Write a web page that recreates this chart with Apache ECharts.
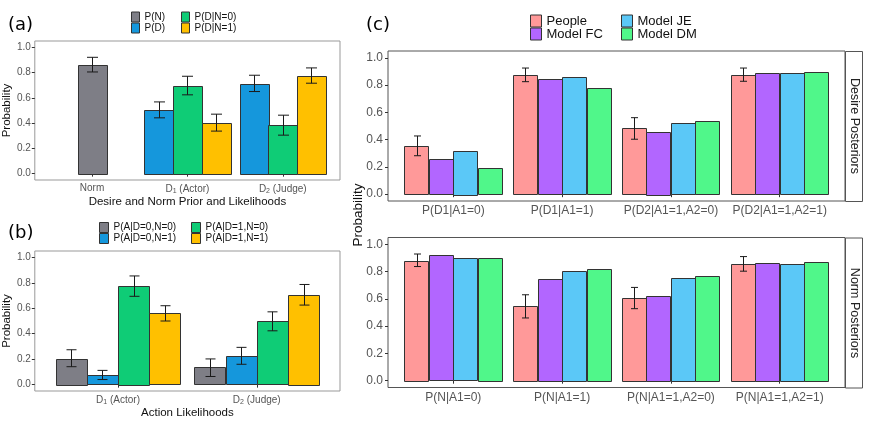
<!DOCTYPE html>
<html>
<head>
<meta charset="utf-8">
<script src="https://cdn.jsdelivr.net/npm/echarts@6/dist/echarts.min.js"></script>
<style>
  html, body { margin: 0; padding: 0; background: #fff; }
  #main { width: 872px; height: 425px; }
</style>
</head>
<body>
<div id="main"></div>
<script>
// ---- panel (a): desire and norm priors / likelihoods
var catsA = ['Norm', 'D1 (Actor)', 'D2 (Judge)'];
var pN = [0.863], pNLo = [0.805], pNHi = [0.921];
var pD = [0.505, 0.713], pDLo = [0.442, 0.650], pDHi = [0.568, 0.779];
var pDN0 = [0.697, 0.384], pDN0Lo = [0.624, 0.305], pDN0Hi = [0.771, 0.463];
var pDN1 = [0.403, 0.774], pDN1Lo = [0.337, 0.716], pDN1Hi = [0.471, 0.837];

// ---- panel (b): action likelihoods
var catsB = ['D1 (Actor)', 'D2 (Judge)'];
var a00 = [0.205, 0.136], a00Lo = [0.141, 0.064], a00Hi = [0.274, 0.202];
var a01 = [0.074, 0.223], a01Lo = [0.040, 0.160], a01Hi = [0.112, 0.293];
var a10 = [0.774, 0.497], a10Lo = [0.694, 0.423], a10Hi = [0.854, 0.572];
var a11 = [0.559, 0.705], a11Lo = [0.500, 0.625], a11Hi = [0.620, 0.787];

// ---- panel (c): posteriors, people vs models
var catsDesire = ['P(D1|A1=0)', 'P(D1|A1=1)', 'P(D2|A1=1,A2=0)', 'P(D2|A1=1,A2=1)'];
var peopleD = [0.354, 0.874, 0.483, 0.874];
var peopleDLo = [0.282, 0.825, 0.403, 0.828];
var peopleDHi = [0.427, 0.925, 0.561, 0.925];
var fcD = [0.260, 0.845, 0.459, 0.886];
var jeD = [0.320, 0.859, 0.519, 0.888];
var dmD = [0.189, 0.779, 0.536, 0.893];

var catsNorm = ['P(N|A1=0)', 'P(N|A1=1)', 'P(N|A1=1,A2=0)', 'P(N|A1=1,A2=1)'];
var peopleN = [0.881, 0.547, 0.606, 0.856];
var peopleNLo = [0.837, 0.460, 0.528, 0.803];
var peopleNHi = [0.929, 0.630, 0.684, 0.910];
var fcN = [0.920, 0.747, 0.623, 0.864];
var jeN = [0.898, 0.808, 0.752, 0.859];
var dmN = [0.900, 0.820, 0.771, 0.871];

var FONT = 'Liberation Sans';
var probTicks = [0, 0.2, 0.4, 0.6, 0.8, 1.0];

// bar with optional error bar, placed by dodge slot inside a category
function bars(name, grid, color, xs, vals, lo, hi, slot, nSlots, cap) {
  var w = 0.9 / nSlots;
  var data = vals.map(function (v, i) {
    var x = xs[i] + (slot - (nSlots - 1) / 2) * w;
    return lo ? [x, v, lo[i], hi[i]] : [x, v];
  });
  return {
    type: 'custom',
    name: name,
    xAxisIndex: grid,
    yAxisIndex: grid,
    itemStyle: { color: color, borderColor: '#333', borderWidth: 1 },
    encode: { x: 0, y: 1 },
    data: data,
    renderItem: function (params, api) {
      var x = api.value(0), y = api.value(1);
      var p0 = api.coord([x - w / 2, 0]);
      var p1 = api.coord([x + w / 2, y]);
      var kids = [{
        type: 'rect',
        shape: { x: Math.round(p0[0]) + 0.5, y: Math.round(p1[1]) + 0.5,
                 width: Math.round(p1[0] - p0[0]), height: Math.round(p0[1] - p1[1]) },
        style: { fill: color, stroke: '#333', lineWidth: 1 }
      }];
      if (lo) {
        var t = api.coord([x, api.value(3)]);
        var b = api.coord([x, api.value(2)]);
        var cx = Math.round(t[0]) + 0.5;
        var st = { stroke: '#1a1a1a', lineWidth: 1 };
        kids.push({ type: 'line', shape: { x1: cx, y1: t[1], x2: cx, y2: b[1] }, style: st });
        kids.push({ type: 'line', shape: { x1: cx - cap / 2, y1: t[1], x2: cx + cap / 2, y2: t[1] }, style: st });
        kids.push({ type: 'line', shape: { x1: cx - cap / 2, y1: b[1], x2: cx + cap / 2, y2: b[1] }, style: st });
      }
      return { type: 'group', children: kids };
    }
  };
}

function idx(n) { var r = []; for (var i = 1; i <= n; i++) r.push(i); return r; }
function subLabel(s) { return s.replace(/^D(\d)/, 'D{s|$1}'); }

function xAxis(grid, cats, fs, margin, name, nameGap, rich) {
  return {
    type: 'value', gridIndex: grid, min: 0.4, max: cats.length + 0.6,
    axisLine: { show: false },
    splitLine: { show: false },
    axisTick: { show: true, customValues: idx(cats.length), length: 3, lineStyle: { color: '#333' } },
    axisLabel: {
      customValues: idx(cats.length), margin: margin, fontSize: fs, fontFamily: FONT, color: '#555',
      formatter: function (v) { var s = cats[Math.round(v) - 1] || ''; return rich ? subLabel(s) : s; },
      rich: rich ? { s: { fontSize: fs * 0.7, fontFamily: FONT, color: '#555', padding: [5, 0, 0, 0] } } : undefined
    },
    name: name, nameLocation: 'middle', nameGap: nameGap,
    nameTextStyle: { fontSize: 11.5, fontFamily: FONT, color: '#111' }
  };
}

function yAxis(grid, fs, margin, name) {
  return {
    type: 'value', gridIndex: grid, min: -0.05, max: 1.05,
    axisLine: { show: false },
    splitLine: { show: false },
    axisTick: { show: true, customValues: probTicks, length: 3, lineStyle: { color: '#333' } },
    axisLabel: {
      customValues: probTicks, margin: margin, fontSize: fs, fontFamily: FONT, color: '#555',
      formatter: function (v) { return v.toFixed(1); }
    },
    name: name, nameLocation: 'middle', nameGap: 17,
    nameTextStyle: { fontSize: 11.5, fontFamily: FONT, color: '#111' }
  };
}

function legend(names, left, top, iw, ih, fs) {
  return {
    data: names, orient: 'vertical', left: left, top: top, padding: 0,
    itemWidth: iw, itemHeight: ih, itemGap: 0, icon: 'rect', selectedMode: false,
    itemStyle: { borderColor: '#333', borderWidth: 1 },
    textStyle: { fontSize: fs, fontFamily: FONT, color: '#111', lineHeight: ih }
  };
}

var cGray = '#7e7e86', cBlue = '#1597dc', cGreen = '#0fcc76', cYellow = '#ffc000';
var cPeople = '#ff9999', cFC = '#b266ff', cJE = '#5bc8f7', cDM = '#50f78a';

var chart = echarts.init(document.getElementById('main'), null, { renderer: 'canvas' });

chart.setOption({
  animation: false,
  backgroundColor: '#fff',
  grid: [
    { left: 30, top: 41, width: 310, height: 139, show: true, borderColor: '#999', borderWidth: 1 },
    { left: 30, top: 251, width: 310, height: 140, show: true, borderColor: '#999', borderWidth: 1 },
    { left: 388, top: 51, width: 457, height: 150, show: true, borderColor: '#555', borderWidth: 1 },
    { left: 388, top: 237.5, width: 457, height: 150, show: true, borderColor: '#555', borderWidth: 1 }
  ],
  xAxis: [
    xAxis(0, catsA, 10, 3, 'Desire and Norm Prior and Likelihoods', 16, true),
    xAxis(1, catsB, 10, 3, 'Action Likelihoods', 16, true),
    xAxis(2, catsDesire, 12, 4, '', 0, false),
    xAxis(3, catsNorm, 12, 4, '', 0, false)
  ],
  yAxis: [
    yAxis(0, 10, 4, 'Probability'),
    yAxis(1, 10, 4, 'Probability'),
    yAxis(2, 12, 5, ''),
    yAxis(3, 12, 5, '')
  ],
  legend: [
    legend(['P(N)', 'P(D)'], 131, 11.5, 8, 10, 10),
    legend(['P(D|N=0)', 'P(D|N=1)'], 181, 11.5, 8, 10, 10),
    legend(['P(A|D=0,N=0)', 'P(A|D=0,N=1)'], 99, 222, 9, 10, 10),
    legend(['P(A|D=1,N=0)', 'P(A|D=1,N=1)'], 191, 222, 9, 10, 10),
    legend(['People', 'Model FC'], 530, 14.5, 11, 12, 13),
    legend(['Model JE', 'Model DM'], 621, 14.5, 11, 12, 13)
  ],
  graphic: [
    { type: 'text', left: 8, top: 16, style: { text: '(a)', fontSize: 18, fontFamily: 'DejaVu Sans', fill: '#000' } },
    { type: 'text', left: 8, top: 224, style: { text: '(b)', fontSize: 18, fontFamily: 'DejaVu Sans', fill: '#000' } },
    { type: 'text', left: 366, top: 16, style: { text: '(c)', fontSize: 18, fontFamily: 'DejaVu Sans', fill: '#000' } },
    { type: 'text', x: 358, y: 215, rotation: Math.PI / 2,
      style: { text: 'Probability', fontSize: 13.5, fontFamily: FONT, fill: '#111', align: 'center', verticalAlign: 'middle' } },
    // facet strips
    { type: 'rect', shape: { x: 845.5, y: 51.5, width: 17, height: 150 }, style: { fill: '#fff', stroke: '#555', lineWidth: 1 } },
    { type: 'rect', shape: { x: 845.5, y: 238, width: 17, height: 150 }, style: { fill: '#fff', stroke: '#555', lineWidth: 1 } },
    { type: 'text', x: 854, y: 126, rotation: -Math.PI / 2,
      style: { text: 'Desire Posteriors', fontSize: 12.5, fontFamily: FONT, fill: '#222', align: 'center', verticalAlign: 'middle' } },
    { type: 'text', x: 854, y: 313, rotation: -Math.PI / 2,
      style: { text: 'Norm Posteriors', fontSize: 12.5, fontFamily: FONT, fill: '#222', align: 'center', verticalAlign: 'middle' } }
  ],
  series: [
    bars('P(N)', 0, cGray, [1], pN, pNLo, pNHi, 1, 3, 11),
    bars('P(D)', 0, cBlue, [2, 3], pD, pDLo, pDHi, 0, 3, 11),
    bars('P(D|N=0)', 0, cGreen, [2, 3], pDN0, pDN0Lo, pDN0Hi, 1, 3, 11),
    bars('P(D|N=1)', 0, cYellow, [2, 3], pDN1, pDN1Lo, pDN1Hi, 2, 3, 11),

    bars('P(A|D=0,N=0)', 1, cGray, [1, 2], a00, a00Lo, a00Hi, 0, 4, 10),
    bars('P(A|D=0,N=1)', 1, cBlue, [1, 2], a01, a01Lo, a01Hi, 1, 4, 10),
    bars('P(A|D=1,N=0)', 1, cGreen, [1, 2], a10, a10Lo, a10Hi, 2, 4, 10),
    bars('P(A|D=1,N=1)', 1, cYellow, [1, 2], a11, a11Lo, a11Hi, 3, 4, 10),

    bars('People', 2, cPeople, idx(4), peopleD, peopleDLo, peopleDHi, 0, 4, 7),
    bars('Model FC', 2, cFC, idx(4), fcD, null, null, 1, 4, 7),
    bars('Model JE', 2, cJE, idx(4), jeD, null, null, 2, 4, 7),
    bars('Model DM', 2, cDM, idx(4), dmD, null, null, 3, 4, 7),

    bars('People', 3, cPeople, idx(4), peopleN, peopleNLo, peopleNHi, 0, 4, 7),
    bars('Model FC', 3, cFC, idx(4), fcN, null, null, 1, 4, 7),
    bars('Model JE', 3, cJE, idx(4), jeN, null, null, 2, 4, 7),
    bars('Model DM', 3, cDM, idx(4), dmN, null, null, 3, 4, 7)
  ]
});
</script>
</body>
</html>
